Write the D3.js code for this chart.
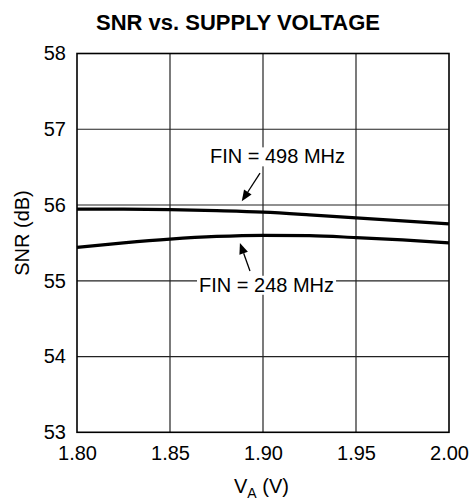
<!DOCTYPE html>
<html>
<head>
<meta charset="utf-8">
<script src="https://cdn.jsdelivr.net/npm/d3@7"></script>
<style>
  body { margin: 0; background: #fff; }
  svg { display: block; font-family: "Liberation Sans", Arial, sans-serif; }
</style>
</head>
<body>
<svg id="chart" width="474" height="500"></svg>
<script>
// Supply voltage sweep (V)
const supplyVoltage = [1.80, 1.825, 1.85, 1.875, 1.90, 1.925, 1.95, 1.975, 2.00];
// SNR (dB) at two input frequencies
const snr498 = [55.945, 55.945, 55.94, 55.925, 55.905, 55.87, 55.83, 55.79, 55.75];
const snr248 = [55.44, 55.50, 55.55, 55.585, 55.60, 55.595, 55.57, 55.54, 55.50];

const xTicks = [1.80, 1.85, 1.90, 1.95, 2.00];
const yTicks = [53, 54, 55, 56, 57, 58];

const svg = d3.select("#chart");
const plotL = 77, plotR = 449, plotT = 53.5, plotB = 432.3;

const x = d3.scaleLinear().domain([1.80, 2.00]).range([plotL, plotR]);
const y = d3.scaleLinear().domain([53, 58]).range([plotB, plotT]);

// Title
svg.append("text")
  .attr("x", 238).attr("y", 29.5)
  .attr("text-anchor", "middle")
  .attr("font-size", 22).attr("font-weight", "bold")
  .text("SNR vs. SUPPLY VOLTAGE");

// Grid
const grid = svg.append("g").attr("stroke", "#222").attr("stroke-width", 1.2);
grid.selectAll("line.v").data(xTicks.slice(1, -1)).join("line").attr("class", "v")
  .attr("x1", d => x(d)).attr("x2", d => x(d))
  .attr("y1", plotT).attr("y2", plotB);
grid.selectAll("line.h").data(yTicks.slice(1, -1)).join("line").attr("class", "h")
  .attr("x1", plotL).attr("x2", plotR)
  .attr("y1", d => y(d)).attr("y2", d => y(d));

// Axes (labels only; frame drawn separately)
const xAxis = d3.axisBottom(x).tickValues(xTicks).tickFormat(d3.format(".2f")).tickSize(0).tickPadding(14);
const gx = svg.append("g").attr("transform", `translate(0,${plotB})`).call(xAxis);
gx.select(".domain").remove();
gx.selectAll("text").attr("font-size", 20).attr("font-family", "Liberation Sans, Arial, sans-serif").attr("fill", "#000");

const yAxis = d3.axisLeft(y).tickValues(yTicks).tickFormat(d3.format("d")).tickSize(0).tickPadding(11);
const gy = svg.append("g").attr("transform", `translate(${plotL},0)`).call(yAxis);
gy.select(".domain").remove();
gy.selectAll("text").attr("font-size", 20).attr("font-family", "Liberation Sans, Arial, sans-serif").attr("fill", "#000");

// Annotations with white backing
function label(txt, xv, yv) {
  const g = svg.append("g");
  const t = g.append("text").attr("x", x(xv)).attr("y", y(yv))
    .attr("font-size", 20).text(txt);
  const b = t.node().getBBox();
  g.insert("rect", "text")
    .attr("x", b.x - 2).attr("y", b.y + 2)
    .attr("width", b.width + 4).attr("height", b.height - 3)
    .attr("fill", "#fff");
}
label("FIN = 498 MHz", 1.8715, 56.55);
label("FIN = 248 MHz", 1.8656, 54.855);

// Frame
svg.append("rect")
  .attr("x", plotL).attr("y", plotT)
  .attr("width", plotR - plotL).attr("height", plotB - plotT)
  .attr("fill", "none").attr("stroke", "#000").attr("stroke-width", 1.6);

// Curves
const line = d3.line().curve(d3.curveMonotoneX);
[snr498, snr248].forEach(s => {
  svg.append("path")
    .attr("d", line(supplyVoltage.map((v, i) => [x(v), y(s[i])])))
    .attr("fill", "none").attr("stroke", "#000").attr("stroke-width", 3.2);
});

// Arrows
function arrow(x0, y0, x1, y1) {
  const p0 = [x(x0), y(y0)], p1 = [x(x1), y(y1)];
  const ang = Math.atan2(p1[1] - p0[1], p1[0] - p0[0]);
  const len = 11, w = 4.5;
  const bx = p1[0] - len * Math.cos(ang), by = p1[1] - len * Math.sin(ang);
  svg.append("line")
    .attr("x1", p0[0]).attr("y1", p0[1]).attr("x2", bx).attr("y2", by)
    .attr("stroke", "#000").attr("stroke-width", 1.3);
  const pts = [
    p1,
    [bx + w * Math.sin(ang), by - w * Math.cos(ang)],
    [bx - w * Math.sin(ang), by + w * Math.cos(ang)]
  ];
  svg.append("polygon").attr("points", pts.map(p => p.join(",")).join(" ")).attr("fill", "#000");
}
arrow(1.8984, 56.42, 1.8886, 56.05);
arrow(1.893, 55.13, 1.8876, 55.50);

// Axis titles
svg.append("text")
  .attr("transform", "translate(29,233) rotate(-90)")
  .attr("text-anchor", "middle")
  .attr("font-size", 20)
  .text("SNR (dB)");

const xl = svg.append("text").attr("x", 234).attr("y", 493).attr("font-size", 20);
xl.append("tspan").text("V");
xl.append("tspan").attr("font-size", 14).attr("dy", 5).text("A");
xl.append("tspan").attr("dy", -5).text(" (V)");
</script>
</body>
</html>
